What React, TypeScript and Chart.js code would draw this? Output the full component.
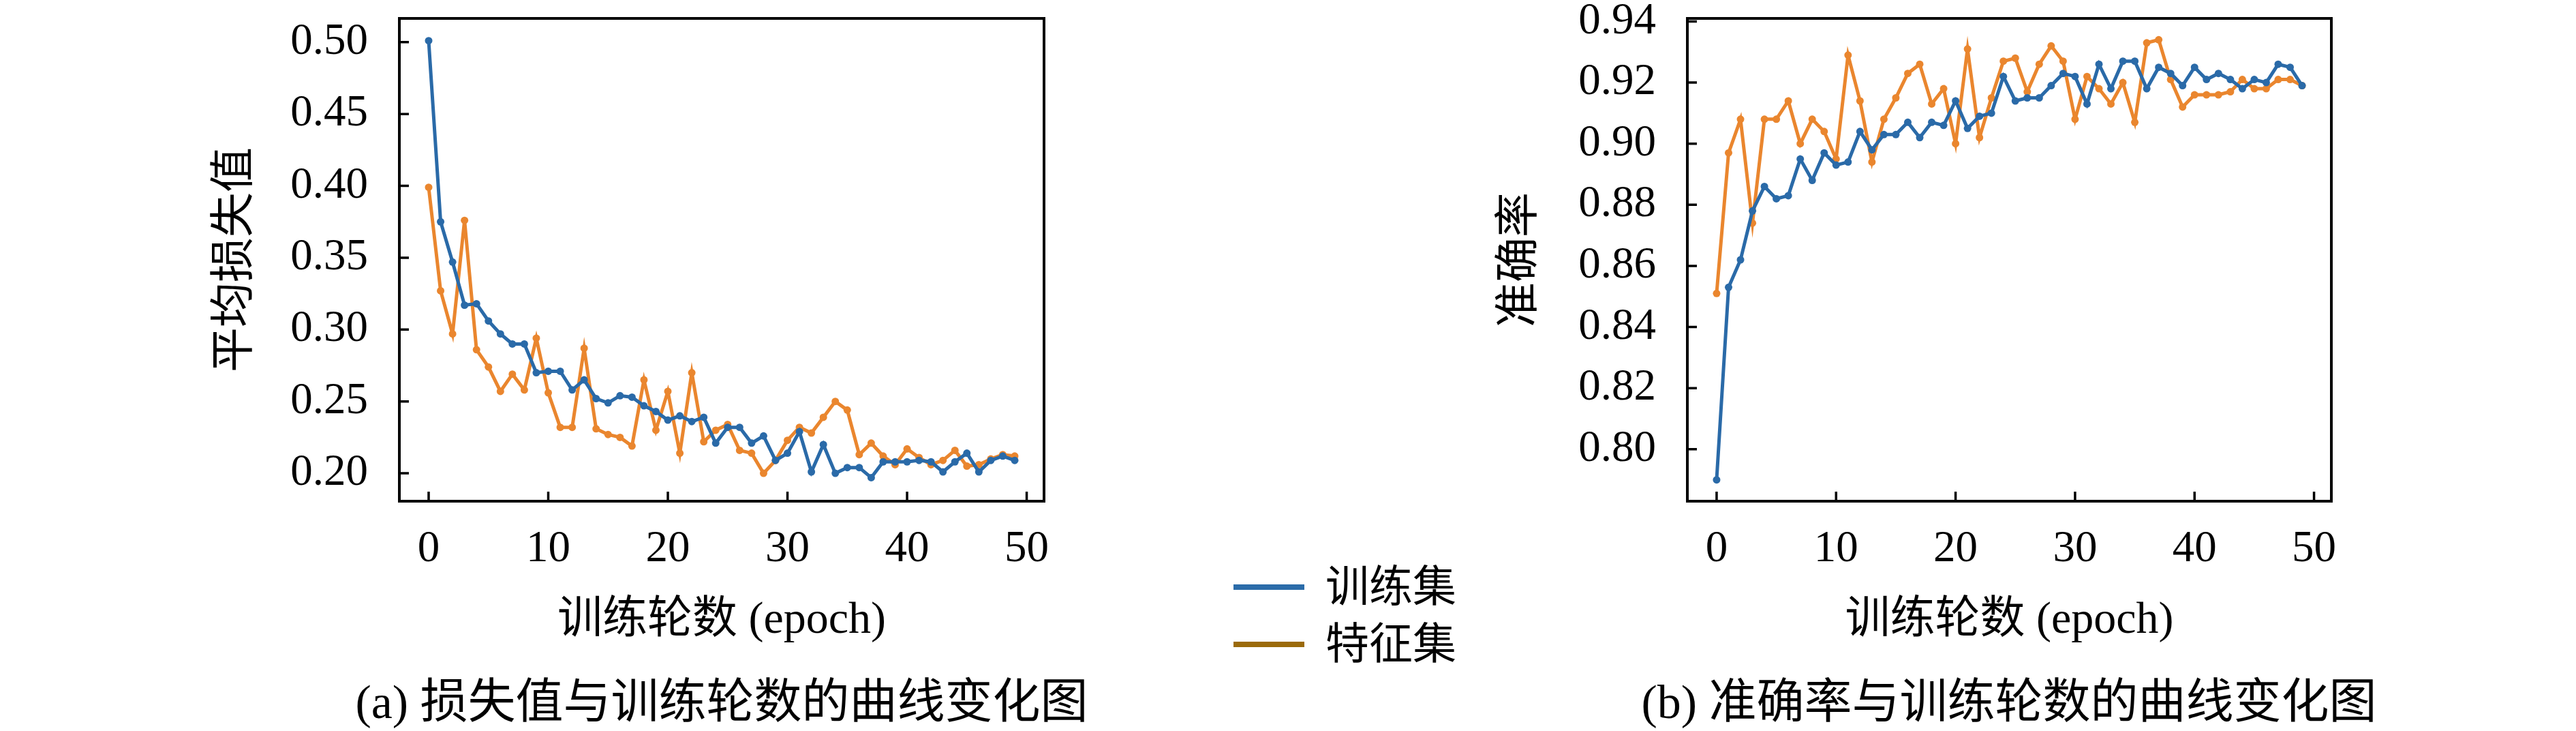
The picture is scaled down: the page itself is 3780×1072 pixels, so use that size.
import React, { useEffect, useRef } from "react";
import { Chart, registerables } from "chart.js";

Chart.register(...registerables);

// ---------- data ----------
const EPOCHS = [
  0, 1, 2, 3, 4, 5, 6, 7, 8, 9, 10, 11, 12, 13, 14, 15, 16, 17, 18, 19, 20, 21, 22, 23, 24,
  25, 26, 27, 28, 29, 30, 31, 32, 33, 34, 35, 36, 37, 38, 39, 40, 41, 42, 43, 44, 45, 46, 47, 48, 49,
];

const LOSS_TRAIN = [
  0.501, 0.375, 0.347, 0.317, 0.318, 0.306, 0.297, 0.29, 0.29, 0.27,
  0.271, 0.271, 0.258, 0.265, 0.252, 0.249, 0.254, 0.253, 0.247, 0.243,
  0.237, 0.24, 0.236, 0.239, 0.221, 0.232, 0.232, 0.221, 0.226, 0.209,
  0.214, 0.229, 0.201, 0.22, 0.2, 0.204, 0.204, 0.197, 0.208, 0.208,
  0.208, 0.209, 0.208, 0.201, 0.208, 0.214, 0.201, 0.209, 0.212, 0.209,
];

const LOSS_FEAT = [
  0.399, 0.327, 0.297, 0.376, 0.286, 0.274, 0.257, 0.269, 0.258, 0.294,
  0.256, 0.232, 0.232, 0.287, 0.231, 0.227, 0.225, 0.219, 0.265, 0.23,
  0.257, 0.214, 0.27, 0.222, 0.23, 0.234, 0.216, 0.214, 0.2, 0.209,
  0.223, 0.232, 0.228, 0.239, 0.25, 0.244, 0.213, 0.221, 0.212, 0.206,
  0.217, 0.211, 0.206, 0.209, 0.216, 0.205, 0.206, 0.21, 0.213, 0.212,
];

const ACC_TRAIN = [
  0.79, 0.853, 0.862, 0.878, 0.886, 0.882, 0.883, 0.895, 0.888, 0.897,
  0.893, 0.894, 0.904, 0.898, 0.903, 0.903, 0.907, 0.902, 0.907, 0.906,
  0.914, 0.905, 0.909, 0.91, 0.922, 0.914, 0.915, 0.915, 0.919, 0.923,
  0.922, 0.913, 0.926, 0.918, 0.927, 0.927, 0.918, 0.925, 0.923, 0.919,
  0.925, 0.921, 0.923, 0.921, 0.918, 0.921, 0.92, 0.926, 0.925, 0.919,
];

const ACC_FEAT = [
  0.851, 0.897, 0.908, 0.874, 0.908, 0.908, 0.914, 0.9, 0.908, 0.904,
  0.895, 0.929, 0.914, 0.894, 0.908, 0.915, 0.923, 0.926, 0.913, 0.918,
  0.9, 0.931, 0.902, 0.915, 0.927, 0.928, 0.917, 0.926, 0.932, 0.927,
  0.908, 0.922, 0.918, 0.913, 0.92, 0.907, 0.933, 0.934, 0.921, 0.912,
  0.916, 0.916, 0.916, 0.917, 0.921, 0.918, 0.918, 0.921, 0.921, 0.919,
];

const X_TICKS = [0, 10, 20, 30, 40, 50];
const LOSS_TICKS = [0.2, 0.25, 0.3, 0.35, 0.4, 0.45, 0.5];
const ACC_TICKS = [0.8, 0.82, 0.84, 0.86, 0.88, 0.9, 0.92, 0.94];

const SERIES_NAMES = ["训练集", "特征集"];
const X_TITLE = "训练轮数 (epoch)";
const LOSS_TITLE = "平均损失值";
const ACC_TITLE = "准确率";
const CAPTION_A = "(a) 损失值与训练轮数的曲线变化图";
const CAPTION_B = "(b) 准确率与训练轮数的曲线变化图";

// ---------- style ----------
const FONT = '"Liberation Serif", "Noto Sans CJK SC", serif';
const BLUE = "#2a6aa8";
const ORANGE = "#ea862e";
const LEGEND_BLUE = "#2b6ca9";
const LEGEND_BROWN = "#9b6a0a";

const frameTicksPlugin = {
  id: "frameTicks",
  afterDraw(chart: any) {
    const { ctx, chartArea: a, scales } = chart;
    ctx.save();
    ctx.strokeStyle = "#000";
    ctx.lineWidth = 3.5;
    ctx.beginPath();
    scales.x.ticks.forEach((t: any) => {
      const px = scales.x.getPixelForValue(t.value);
      ctx.moveTo(px, a.bottom);
      ctx.lineTo(px, a.bottom - 14);
    });
    scales.y.ticks.forEach((t: any) => {
      const py = scales.y.getPixelForValue(t.value);
      ctx.moveTo(a.left, py);
      ctx.lineTo(a.left + 14, py);
    });
    ctx.stroke();
    ctx.lineWidth = 4;
    ctx.strokeRect(a.left, a.top, a.right - a.left, a.bottom - a.top);
    ctx.restore();
  },
};

type PanelProps = {
  left: number;
  width: number;
  height: number;
  axisWidth: number;
  padRight: number;
  yTitle: string;
  yTitlePad: number;
  train: number[];
  feat: number[];
  yMin: number;
  yMax: number;
  yTicks: number[];
};

function Panel(p: PanelProps) {
  const ref = useRef<HTMLCanvasElement | null>(null);
  useEffect(() => {
    if (!ref.current) return;
    const mk = (vals: number[]) => EPOCHS.map((e, i) => ({ x: e, y: vals[i] }));
    const ds = (label: string, vals: number[], color: string) => ({
      label,
      data: mk(vals),
      borderColor: color,
      backgroundColor: color,
      borderWidth: 5,
      pointRadius: 5.5,
      pointBorderWidth: 0,
      pointHoverRadius: 5.5,
      tension: 0,
    });
    const chart = new Chart(ref.current, {
      type: "line",
      data: {
        datasets: [ds(SERIES_NAMES[0], p.train, BLUE), ds(SERIES_NAMES[1], p.feat, ORANGE)],
      },
      options: {
        responsive: false,
        animation: false,
        devicePixelRatio: 1,
        layout: { padding: { left: 0, top: 27, right: p.padRight, bottom: 0 } },
        plugins: {
          legend: { display: false },
          tooltip: { enabled: false },
          title: { display: false },
        },
        scales: {
          x: {
            type: "linear",
            position: "bottom",
            min: -2.45,
            max: 51.45,
            afterBuildTicks: (s: any) => {
              s.ticks = X_TICKS.map((v) => ({ value: v }));
            },
            afterFit: (s: any) => {
              s.height = p.height - 735;
              s.paddingLeft = 0;
              s.paddingRight = 0;
            },
            grid: { display: false, drawTicks: false },
            border: { display: false },
            ticks: {
              color: "#000",
              font: { family: FONT, size: 65, lineHeight: 1.2 },
              padding: 32,
              maxRotation: 0,
              autoSkip: false,
              callback: (v: any) => String(v),
            },
            title: {
              display: true,
              text: X_TITLE,
              color: "#000",
              font: { family: FONT, size: 66, lineHeight: 1.2 },
              padding: { top: 0, bottom: 30 },
            },
          },
          y: {
            type: "linear",
            min: p.yMin,
            max: p.yMax,
            afterBuildTicks: (s: any) => {
              s.ticks = p.yTicks.map((v) => ({ value: v }));
            },
            afterFit: (s: any) => {
              s.width = p.axisWidth;
              s.paddingTop = 0;
              s.paddingBottom = 0;
            },
            grid: { display: false, drawTicks: false },
            border: { display: false },
            ticks: {
              color: "#000",
              font: { family: FONT, size: 65, lineHeight: 1.2 },
              padding: 46,
              autoSkip: false,
              callback: (v: any) => Number(v).toFixed(2),
            },
            title: {
              display: true,
              text: p.yTitle,
              color: "#000",
              font: { family: FONT, size: 66, lineHeight: 1.2 },
              padding: { top: p.yTitlePad, bottom: 0 },
            },
          },
        },
      } as any,
      plugins: [frameTicksPlugin],
    });
    return () => chart.destroy();
  }, []);
  return (
    <canvas
      ref={ref}
      width={p.width}
      height={p.height}
      style={{ position: "absolute", left: p.left, top: 0, width: p.width, height: p.height }}
    />
  );
}

function Caption({ center, text }: { center: number; text: string }) {
  return (
    <div
      style={{
        position: "absolute",
        left: center - 800,
        width: 1600,
        top: 985,
        height: 90,
        lineHeight: "90px",
        fontSize: 70,
        fontFamily: FONT,
        textAlign: "center",
        whiteSpace: "nowrap",
        color: "#000",
      }}
    >
      {text}
    </div>
  );
}

function LegendRow({ centerY, color, text }: { centerY: number; color: string; text: string }) {
  return (
    <div
      style={{
        position: "absolute",
        left: 1810,
        top: centerY - 40,
        height: 80,
        display: "flex",
        alignItems: "center",
        whiteSpace: "nowrap",
      }}
    >
      <span style={{ display: "inline-block", width: 104, height: 8, background: color, marginRight: 31 }} />
      <span style={{ fontSize: 64, lineHeight: "80px", fontFamily: FONT, color: "#000" }}>{text}</span>
    </div>
  );
}

export default function App() {
  return (
    <div
      style={{
        position: "fixed",
        left: 0,
        top: 0,
        width: 3780,
        height: 1072,
        background: "#fff",
        overflow: "hidden",
      }}
    >
      <Panel
        left={0}
        width={1700}
        height={980}
        axisWidth={586}
        padRight={168}
        yTitle={LOSS_TITLE}
        yTitlePad={307}
        train={LOSS_TRAIN}
        feat={LOSS_FEAT}
        yMin={0.1806}
        yMax={0.5165}
        yTicks={LOSS_TICKS}
      />
      <Panel
        left={1950}
        width={1830}
        height={980}
        axisWidth={526}
        padRight={359}
        yTitle={ACC_TITLE}
        yTitlePad={242}
        train={ACC_TRAIN}
        feat={ACC_FEAT}
        yMin={0.783}
        yMax={0.941}
        yTicks={ACC_TICKS}
      />
      <LegendRow centerY={861} color={LEGEND_BLUE} text={SERIES_NAMES[0]} />
      <LegendRow centerY={945} color={LEGEND_BROWN} text={SERIES_NAMES[1]} />
      <Caption center={1059} text={CAPTION_A} />
      <Caption center={2948} text={CAPTION_B} />
    </div>
  );
}
